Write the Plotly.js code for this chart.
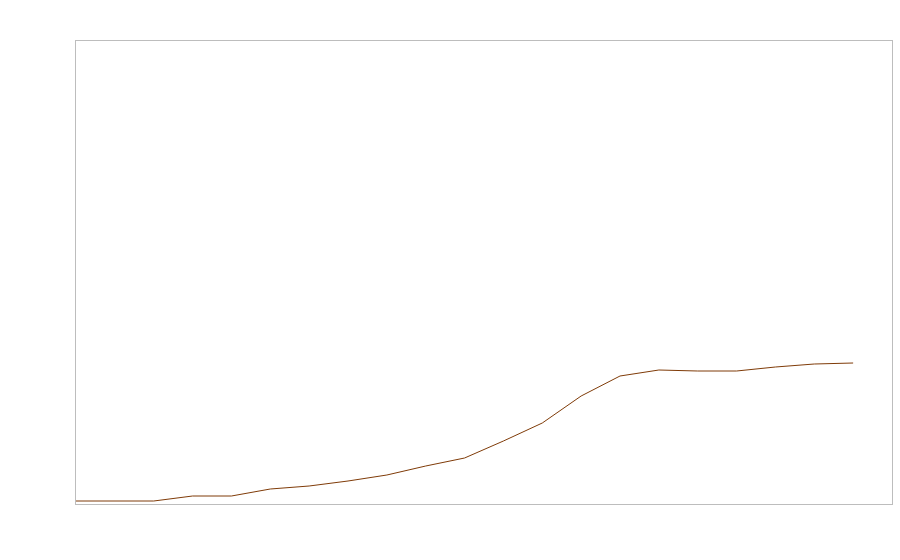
<!DOCTYPE html>
<html>
<head>
<meta charset="utf-8">
<script src="https://cdn.plot.ly/plotly-3.0.1.min.js"></script>
<style>html,body{margin:0;padding:0;background:#fff;}#chart{width:900px;height:560px;}</style>
</head>
<body>
<div id="chart"></div>
<script>
const xIndex = [0,1,2,3,4,5,6,7,8,9,10,11,12,13,14,15,16,17,18,19,20];
const seriesValues = [3,3,3,8,8,15,18,23,29,38,46,63,81,108,128,134,133,133,137,140,141];

const trace = {
  x: xIndex,
  y: seriesValues,
  type: 'scatter',
  mode: 'lines',
  line: {color: '#7f3b08', width: 1},
  hoverinfo: 'skip'
};

const layout = {
  width: 900, height: 560,
  margin: {l: 76, r: 8, t: 41, b: 56},
  paper_bgcolor: '#ffffff', plot_bgcolor: '#ffffff',
  showlegend: false,
  xaxis: {range: [0, 21], showgrid: false, zeroline: false, showticklabels: false, ticks: '',
          showline: true, mirror: true, linecolor: '#bdbdbd', linewidth: 1},
  yaxis: {range: [0, 463], showgrid: false, zeroline: false, showticklabels: false, ticks: '',
          showline: true, mirror: true, linecolor: '#bdbdbd', linewidth: 1}
};

Plotly.newPlot('chart', [trace], layout, {displayModeBar: false, staticPlot: true});
</script>
</body>
</html>
